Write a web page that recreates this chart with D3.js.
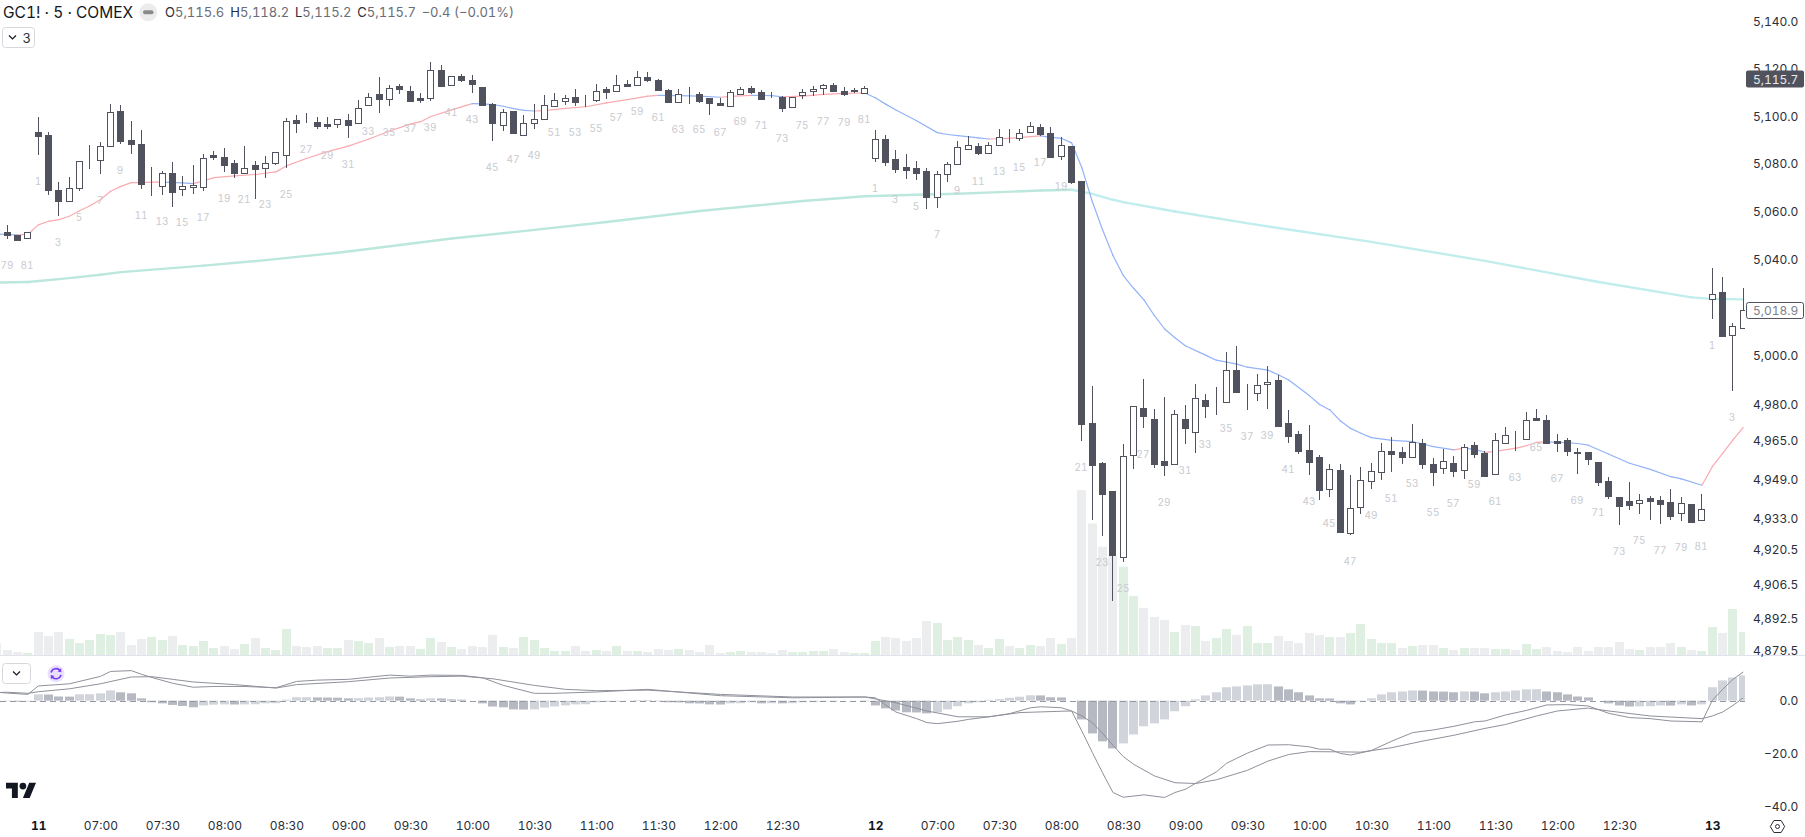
<!DOCTYPE html>
<html>
<head>
<meta charset="utf-8">
<title>GC1! 5 COMEX</title>
<script src="https://cdn.jsdelivr.net/npm/d3@7"></script>
<style>
  html, body { margin: 0; padding: 0; background: #fff; }
  svg { display: block; font-family: Inter, sans-serif; font-variant-numeric: tabular-nums; }
</style>
</head>
<body>
<svg id="chart" width="1805" height="837"></svg>
<script>
// bar 0 is the open of the session labelled 11, one bar every 5 minutes
var firstBar = -4;
var sessionOpens = [-81, 0, 81, 162];

var opens = [
  5050.5, 5051.3, 5050.2, 5048.8,
  5093.4, 5092.1, 5068.9, 5064.6, 5069.8, 5081.1, 5081.5, 5087.4, 5102.2, 5090.0,
  5088.3, 5072.3, 5070.6, 5076.2, 5069.4, 5070.2, 5070.2, 5083.7, 5082.9, 5080.2,
  5076.1, 5079.4, 5078.2, 5080.2, 5083.6, 5098.3, 5097.5, 5097.6, 5096.6, 5096.6,
  5098.3, 5097.0, 5104.6, 5109.2, 5107.1, 5112.9, 5110.8, 5107.5, 5107.9, 5119.6,
  5113.1, 5116.8, 5115.1, 5112.2, 5105.0, 5096.5, 5102.1, 5092.1, 5097.3, 5098.9,
  5104.3, 5106.4, 5108.2, 5106.5, 5106.8, 5111.3, 5110.8, 5113.8, 5113.3, 5116.4,
  5115.4, 5111.2, 5106.0, 5109.9, 5109.5, 5107.5, 5105.4, 5104.5, 5109.4, 5112.0,
  5110.3, 5108.9, 5108.2, 5104.0, 5108.9, 5110.6, 5111.9, 5113.3, 5110.8, 5110.8, 5109.8,
  5082.6, 5090.4, 5081.9, 5078.7, 5078.3, 5077.0, 5065.9, 5075.9, 5079.7, 5086.4,
  5087.4, 5084.7, 5087.8, 5091.5, 5091.0, 5093.2, 5095.3, 5093.0, 5083.2, 5087.5,
  5072.8, 4972.4, 4955.9, 4944.4, 4917.5, 4959.1, 4978.4, 4974.0, 4956.7, 4955.4,
  4973.9, 4968.8, 4981.6, 4979.9, 4980.8, 4994.0, 4984.9, 4984.5, 4988.2, 4990.0,
  4972.3, 4967.8, 4961.3, 4958.4, 4945.1, 4953.1, 4927.5, 4937.8, 4948.4, 4952.1,
  4960.9, 4960.5, 4958.3, 4964.0, 4955.5, 4953.7, 4955.8, 4952.9, 4963.3, 4960.0,
  4951.6, 4964.0, 4966.5, 4965.8, 4974.4, 4973.4, 4965.0, 4965.2, 4960.3, 4960.5,
  4956.4, 4948.6, 4942.1, 4940.5, 4939.4, 4941.7, 4940.9, 4940.1, 4935.3, 4939.2, 4932.5,
  5023.7, 5026.5, 5008.8, 5011.7
];
var highs = [
  5052.0, 5054.4, 5050.2, 5051.6,
  5099.7, 5093.4, 5072.4, 5074.5, 5081.1, 5087.9, 5089.2, 5105.1, 5104.6, 5098.0,
  5094.2, 5078.7, 5076.9, 5080.8, 5074.9, 5079.5, 5084.0, 5085.4, 5086.7, 5081.6,
  5087.5, 5081.2, 5083.3, 5084.9, 5099.2, 5100.4, 5101.3, 5099.5, 5099.5, 5098.7,
  5100.9, 5106.8, 5109.6, 5116.4, 5113.1, 5113.8, 5112.7, 5110.0, 5122.7, 5121.5,
  5117.1, 5117.9, 5117.2, 5112.2, 5105.6, 5103.2, 5102.1, 5100.4, 5105.0, 5108.8,
  5109.6, 5108.8, 5111.7, 5108.8, 5113.4, 5112.2, 5117.2, 5115.1, 5118.9, 5118.5,
  5115.9, 5111.6, 5111.3, 5112.3, 5110.3, 5107.5, 5107.8, 5111.2, 5112.2, 5112.6,
  5111.2, 5110.3, 5108.5, 5108.2, 5111.3, 5112.6, 5113.7, 5114.1, 5112.4, 5111.9, 5112.9,
  5094.2, 5092.1, 5085.8, 5084.2, 5081.2, 5078.3, 5077.0, 5080.8, 5089.6, 5091.7,
  5088.8, 5089.2, 5094.6, 5094.6, 5094.6, 5097.4, 5096.6, 5095.5, 5091.1, 5087.5,
  5072.8, 4987.6, 4956.3, 4944.4, 4963.6, 4979.2, 4990.5, 4978.1, 4983.1, 4977.7,
  4979.7, 4988.3, 4984.2, 4987.1, 5001.4, 5004.1, 4988.3, 4992.4, 4995.7, 4991.9,
  4977.7, 4969.0, 4971.5, 4959.2, 4955.5, 4955.5, 4951.0, 4954.2, 4955.8, 4964.0,
  4966.6, 4962.5, 4971.9, 4965.8, 4958.0, 4961.7, 4958.8, 4963.7, 4964.6, 4960.9,
  4968.2, 4970.7, 4969.1, 4976.7, 4978.1, 4975.6, 4967.8, 4966.2, 4962.1, 4960.5,
  4956.4, 4950.2, 4942.1, 4948.2, 4943.3, 4942.5, 4942.5, 4945.3, 4942.1, 4939.2, 4943.3,
  5036.4, 5032.7, 5013.6, 5028.1
];
var lows = [
  5049.0, 5048.4, 5048.3, 5048.4,
  5083.5, 5066.7, 5058.2, 5064.2, 5068.4, 5077.9, 5075.9, 5087.4, 5088.5, 5084.3,
  5069.5, 5066.3, 5066.7, 5061.7, 5066.3, 5067.5, 5068.4, 5081.4, 5076.6, 5074.1,
  5076.1, 5065.3, 5074.2, 5079.4, 5078.4, 5093.1, 5097.1, 5094.8, 5094.8, 5095.2,
  5091.0, 5097.0, 5104.6, 5101.5, 5104.4, 5109.4, 5106.2, 5105.7, 5106.5, 5112.4,
  5112.7, 5114.4, 5109.8, 5104.6, 5089.6, 5093.8, 5093.0, 5092.1, 5094.5, 5098.4,
  5104.3, 5104.7, 5104.2, 5103.9, 5106.0, 5107.3, 5110.8, 5112.3, 5113.3, 5114.3,
  5110.6, 5106.0, 5105.6, 5105.0, 5105.6, 5100.5, 5104.3, 5103.9, 5108.9, 5109.5,
  5107.3, 5107.7, 5101.8, 5104.0, 5107.1, 5108.5, 5108.9, 5110.2, 5108.5, 5109.9, 5109.8,
  5080.9, 5078.9, 5076.3, 5073.7, 5073.3, 5061.1, 5061.5, 5072.4, 5079.7, 5086.4,
  5083.7, 5084.7, 5087.8, 5088.6, 5089.7, 5093.2, 5091.6, 5082.5, 5081.4, 5071.6,
  4965.1, 4932.8, 4925.9, 4899.8, 4915.7, 4953.6, 4970.4, 4954.0, 4950.7, 4955.4,
  4963.6, 4960.0, 4974.4, 4975.7, 4980.8, 4984.9, 4977.7, 4981.4, 4978.1, 4970.7,
  4964.1, 4959.6, 4951.1, 4940.9, 4942.1, 4927.5, 4926.7, 4935.2, 4945.4, 4949.0,
  4952.4, 4955.3, 4958.3, 4953.6, 4946.5, 4951.6, 4950.3, 4949.3, 4958.1, 4950.7,
  4951.0, 4964.0, 4961.0, 4965.4, 4973.0, 4963.5, 4960.5, 4958.9, 4951.4, 4955.1,
  4946.6, 4941.3, 4930.7, 4936.8, 4935.2, 4932.8, 4931.1, 4932.8, 4932.3, 4931.5, 4932.5,
  5015.3, 5007.9, 4985.4, 5011.1
];
var closes = [
  5051.3, 5050.2, 5048.3, 5051.3,
  5091.8, 5068.8, 5064.6, 5069.8, 5081.1, 5081.0, 5087.4, 5101.6, 5089.7, 5088.1,
  5071.7, 5072.2, 5076.1, 5068.0, 5070.6, 5071.0, 5082.3, 5083.0, 5079.3, 5076.3,
  5078.4, 5078.0, 5080.2, 5084.9, 5097.8, 5097.3, 5097.4, 5096.0, 5095.9, 5098.7,
  5096.5, 5103.3, 5108.3, 5107.3, 5112.1, 5111.5, 5106.5, 5106.9, 5119.6, 5112.8,
  5116.8, 5115.5, 5113.4, 5104.6, 5097.2, 5101.9, 5093.0, 5097.3, 5099.0, 5104.9,
  5107.0, 5107.8, 5105.9, 5106.4, 5110.8, 5110.2, 5113.3, 5112.7, 5116.6, 5115.1,
  5111.0, 5106.0, 5109.5, 5110.0, 5106.4, 5105.6, 5104.7, 5110.2, 5111.6, 5110.2,
  5107.3, 5108.9, 5103.5, 5108.2, 5110.3, 5111.6, 5113.0, 5110.6, 5109.5, 5110.9, 5112.0,
  5090.3, 5080.9, 5077.6, 5077.5, 5076.2, 5066.1, 5075.6, 5080.0, 5087.0, 5087.8,
  5084.6, 5087.8, 5091.4, 5091.6, 5092.8, 5095.8, 5092.5, 5082.9, 5087.8, 5072.4,
  4972.1, 4955.2, 4943.3, 4918.5, 4958.6, 4979.2, 4975.4, 4955.6, 4955.2, 4975.9,
  4970.2, 4982.4, 4979.4, 4979.9, 4994.0, 4984.9, 4984.9, 4987.8, 4989.4, 4971.1,
  4967.0, 4960.8, 4956.5, 4945.0, 4953.3, 4927.8, 4937.4, 4948.8, 4952.5, 4960.7,
  4959.8, 4958.4, 4964.6, 4955.3, 4952.2, 4956.6, 4952.8, 4962.4, 4959.4, 4950.7,
  4965.2, 4967.3, 4966.6, 4973.4, 4973.6, 4964.1, 4964.1, 4961.0, 4960.2, 4957.6,
  4948.2, 4942.5, 4938.4, 4938.8, 4940.7, 4940.5, 4939.2, 4934.4, 4939.5, 4931.9, 4937.1,
  5025.6, 5008.2, 5012.4, 5018.9
];

// volume in arbitrary units, the picture has no volume axis
var volumes = [
  36, 16, 10, 7,
  70, 58, 70, 49, 37, 46, 64, 61, 70, 31, 49, 55, 46, 58, 31, 28, 43, 22, 28, 19,
  34, 52, 22, 16, 79, 28, 25, 28, 22, 22, 46, 43, 37, 52, 25, 28, 28, 19, 52, 40,
  25, 19, 28, 25, 61, 25, 22, 55, 46, 22, 13, 13, 28, 13, 16, 13, 28, 13, 13, 10,
  19, 16, 19, 16, 10, 31, 7, 10, 13, 10, 10, 7, 16, 10, 10, 13, 13, 19, 10, 7, 7,
  43, 55, 52, 43, 52, 103, 97, 46, 55, 46, 31, 22, 49, 28, 22, 31, 28, 52, 34, 52,
  496, 396, 326, 298, 266, 178, 142, 115, 106, 70, 91, 88, 43, 52, 79, 61, 88, 37, 37, 58,
  43, 37, 67, 61, 55, 55, 67, 94, 49, 37, 37, 22, 28, 31, 31, 22, 16, 22, 22, 22,
  19, 19, 16, 34, 19, 25, 13, 10, 25, 13, 25, 25, 40, 19, 16, 25, 25, 37, 25, 16, 13,
  85, 67, 139, 70
];
var volumeUp = [
  0, 0, 0, 1,
  0, 0, 0, 1, 1, 1, 1, 1, 0, 0, 0, 1, 1, 0, 1, 1, 1, 1, 0, 0,
  1, 0, 1, 1, 1, 0, 0, 0, 1, 1, 0, 1, 1, 0, 1, 0, 0, 1, 1, 0,
  1, 0, 0, 0, 0, 1, 0, 1, 1, 1, 1, 1, 0, 0, 1, 0, 1, 0, 1, 0,
  0, 0, 1, 0, 0, 0, 0, 1, 1, 0, 0, 0, 0, 1, 1, 1, 1, 0, 0, 1, 1,
  1, 0, 0, 0, 0, 0, 1, 1, 1, 1, 0, 1, 1, 0, 1, 1, 0, 0, 1, 0,
  0, 0, 0, 0, 1, 1, 0, 0, 0, 1, 0, 1, 0, 1, 1, 0, 1, 1, 1, 0,
  0, 0, 0, 0, 1, 0, 1, 1, 1, 1, 1, 0, 1, 0, 0, 1, 0, 1, 0, 0,
  1, 1, 0, 1, 1, 0, 0, 0, 0, 0, 0, 0, 0, 0, 1, 0, 0, 0, 1, 0, 1,
  1, 0, 1, 1
];

var macdHist = [
  -0.2, -0.2, -0.4, -0.3,
  2.4, 2.35, 1.6, 1.55, 2.4, 2.45, 2.8, 3.9, 3.2, 2.8,
  0.9, -0.6, -1.0, -1.6, -2.0, -2.5, -1.8, -1.5, -1.4, -1.45,
  -1.4, -1.35, -1.0, -0.95, 0.4, 1.3, 1.3, 1.25, 1.2, 1.15,
  0.9, 0.95, 1.2, 1.3, 1.6, 1.55, 0.9, 0.5, 0.9, 0.85,
  0.5, 0.4, 0, -1.0, -2.2, -2.5, -3.3, -3.35, -3.3, -2.6,
  -2.2, -1.8, -1.4, -1.35, -0.6, -0.5, -0.3, -0.1, 0.3, 0.2,
  -0.2, -0.6, -0.65, -1.0, -1.05, -1.4, -1.45, -1.0, -0.95, -0.6,
  -1.0, -0.95, -1.0, -0.95, -0.6, -0.55, -0.3, -0.25, 0, 0.05, -0.2,
  -1.8, -2.9, -3.7, -4.4, -4.45, -4.8, -4.4, -3.3, -2.1, -1.0,
  -0.6, 0.3, 0.6, 1.1, 1.5, 2.05, 2.0, 1.3, 1.25, 0,
  -7.1, -12.4, -15.4, -18.1, -16.2, -12.8, -9.7, -8.6, -7.1, -4.0,
  -2.1, 0.5, 2.0, 3.2, 5.1, 5.4, 5.8, 6.2, 6.25, 5.4,
  4.3, 3.2, 2.0, 0.9, 0.85, -1.0, -1.4, -0.2, 0.9, 2.4,
  3.2, 3.5, 3.9, 3.85, 3.5, 3.45, 3.2, 3.5, 3.45, 2.8,
  3.2, 3.5, 3.9, 4.3, 4.35, 3.5, 3.2, 2.4, 1.6, 1.25,
  0, -1.0, -1.8, -2.2, -2.15, -2.1, -1.8, -1.85, -1.4, -1.8, -1.4,
  5.1, 7.7, 8.8, 9.6
];

var fastMa = [
  [-4, 5050.6], [-3, 5050.4], [-2, 5050.2], [-1, 5050.5], [0, 5054.4], [1, 5055.9], [2, 5056.6], [3, 5058.0],
  [4, 5060.3], [5, 5062.4], [6, 5064.9], [7, 5068.5], [8, 5070.5], [9, 5072.1], [10, 5072.1], [11, 5072.3],
  [12, 5072.3], [14, 5072.0], [15, 5071.7], [16, 5072.8], [17, 5074.2], [19, 5074.9], [21, 5075.5], [23, 5076.6],
  [24, 5079.1], [26, 5082.3], [28, 5085.1], [30, 5087.4], [32, 5090.4], [34, 5093.8], [36, 5096.7], [37, 5097.7],
  [38, 5099.9], [40, 5102.7], [42, 5105.3], [43, 5105.2], [44, 5104.9], [45, 5104.2], [46, 5103.2], [47, 5102.5],
  [48, 5102.2], [49, 5102.4], [51, 5103.3], [53, 5104.0], [55, 5105.6], [57, 5107.0], [59, 5108.5], [60, 5108.8],
  [62, 5108.7], [64, 5108.5], [66, 5108.0], [67, 5108.4], [69, 5108.8], [71, 5108.7], [72, 5108.2], [74, 5108.5],
  [76, 5109.2], [78, 5109.6], [80, 5109.8], [81, 5107.8], [82, 5105.1], [83, 5102.6], [85, 5098.1], [87, 5093.1],
  [88, 5092.3], [89, 5091.8], [91, 5090.9], [92, 5090.4], [94, 5090.7], [96, 5091.4], [97, 5091.7], [98, 5091.1],
  [99, 5090.7], [100, 5088.8], [101, 5078.2], [102, 5064.2], [103, 5052.3], [104, 5041.6], [105, 5033.3], [106, 5028.0],
  [107, 5023.2], [108, 5016.7], [109, 5011.1], [110, 5007.5], [111, 5004.2], [113, 5000.2], [114, 4998.2], [116, 4996.6],
  [117, 4995.3], [119, 4994.1], [120, 4992.2], [121, 4990.0], [123, 4983.6], [124, 4979.9], [125, 4977.7], [126, 4973.2],
  [127, 4970.1], [128, 4968.1], [129, 4966.3], [131, 4965.2], [133, 4964.7], [134, 4963.7], [135, 4962.6], [137, 4961.3],
  [138, 4962.0], [139, 4961.5], [140, 4960.3], [141, 4960.7], [143, 4962.0], [144, 4963.0], [145, 4964.4], [146, 4964.6],
  [147, 4964.4], [148, 4964.3], [149, 4963.9], [150, 4963.2], [152, 4959.5], [154, 4955.8], [156, 4953.3], [158, 4950.3],
  [159, 4949.4], [161, 4946.8], [162, 4954.4], [163, 4959.9], [164, 4965.4], [165, 4970.5]
];
var slowMa = [
  [-4, 5030.4], [-1, 5030.6], [3, 5032.2], [6, 5033.6], [8, 5034.7], [16, 5037.4], [22, 5039.7], [29, 5042.8],
  [35, 5046.0], [40, 5048.7], [46, 5051.4], [55, 5055.6], [64, 5060.2], [74, 5064.4], [80, 5066.4], [85, 5067.0],
  [89, 5067.4], [93, 5068.1], [97, 5068.8], [100, 5069.1], [102, 5067.4], [104, 5064.9], [105, 5063.9], [110, 5060.0],
  [118, 5054.4], [129, 5047.3], [140, 5039.4], [151, 5030.6], [160, 5024.2], [162, 5023.6], [165, 5023.4]
];
var macdLine = [
  [-4, 3.2], [-3, 2.9], [-1, 2.4], [0, 5.6], [3, 6.4], [6, 9.2], [7, 11.1], [9, 11.4], [10, 10.0], [11, 8.8],
  [13, 6.6], [15, 5.1], [17, 5.4], [20, 5.4], [23, 4.9], [25, 7.3], [27, 7.8], [30, 8.1], [34, 9.7], [36, 9.3],
  [38, 9.7], [41, 9.6], [43, 8.7], [45, 5.8], [48, 2.8], [50, 2.8], [54, 3.3], [59, 4.3], [66, 1.9], [73, 1.1],
  [80, 1.4], [81, 1.1], [83, -4.3], [85, -6.8], [86, -8.3], [87, -8.7], [89, -7.8], [90, -7.1], [92, -6.1], [94, -4.9],
  [96, -2.7], [97, -2.3], [99, -2.65], [100, -3.9], [101, -11.6], [102, -19.6], [103, -27.4], [104, -34.8], [105, -36.6],
  [107, -35.7], [109, -36.7], [110, -34.8], [111, -33.6], [112, -31.3], [114, -27], [115, -23.7], [116, -21.8], [117, -19.9],
  [119, -16.8], [121, -16.7], [123, -17.5], [124, -18.4], [125, -18.4], [126, -20], [127, -20.6], [129, -18.9], [131, -15.3],
  [133, -12.1], [135, -11.1], [137, -9.7], [139, -8], [140, -7.7], [142, -5.4], [144, -3.7], [146, -1.6], [148, -1.5],
  [150, -2], [152, -4.8], [154, -6.4], [156, -6.8], [158, -7.7], [161, -8], [162, 0.1], [163, 4.3], [164, 8.1], [165, 10.9]
];
var signalLine = [
  [-4, 3.1], [-3, 3.2], [-1, 2.8], [0, 3.4], [3, 4.5], [6, 6.4], [9, 9.0], [11, 9.1], [15, 7.1], [19, 6.1],
  [23, 4.8], [25, 6.1], [30, 7.2], [34, 8.6], [38, 9.1], [41, 9.3], [44, 8.3], [48, 5.8], [51, 4.3], [54, 3.8],
  [59, 4.0], [66, 2.4], [73, 1.4], [80, 1.4], [83, -0.8], [86, -3.9], [89, -6.1], [92, -6.1], [95, -4.5], [99, -4.0],
  [100, -3.9], [101, -5.8], [102, -8.3], [103, -12.4], [104, -16.9], [105, -21.2], [106, -24.1], [108, -28.5], [110, -31.1],
  [112, -31.4], [114, -30], [117, -26.4], [119, -22.9], [121, -20.4], [123, -19.3], [126, -19.4], [128, -19.5], [131, -17.8],
  [134, -15.3], [137, -13.1], [140, -10.5], [142, -9], [145, -5.8], [147, -3.9], [150, -2.8], [152, -3.9], [156, -5.8],
  [161, -6.8], [162, -5.8], [163, -4.3], [164, -1.8], [165, 1.1]
];

var priceTicks = [5140, 5120, 5100, 5080, 5060, 5040, 5000, 4980, 4965, 4949, 4933, 4920.5, 4906.5, 4892.5, 4879.5];
var macdTicks = [0, -20, -40];
var timeBars = [0, 6, 12, 18, 24, 30, 36, 42, 48, 54, 60, 66, 72, 81, 87, 93, 99, 105, 111, 117, 123, 129, 135, 141, 147, 153, 162];
var timeLabels = ['11', '07:00', '07:30', '08:00', '08:30', '09:00', '09:30', '10:00', '10:30', '11:00', '11:30', '12:00', '12:30',
  '12', '07:00', '07:30', '08:00', '08:30', '09:00', '09:30', '10:00', '10:30', '11:00', '11:30', '12:00', '12:30', '13'];
var dayLabels = ['11', '12', '13'];
var lastPrice = 5115.7;
var livePrice = 5018.9;

var plotRight = 1745,
  darkBar = '#50535e',
  axisText = '#2a2e39';

var svg = d3.select('#chart');

var xScale = d3.scaleLinear().domain([0, 162]).range([38.3, 1712.3]),
  yPrice = d3.scaleLog().domain([5140, 4879.5]).range([21.7, 651]),
  yVolume = d3.scaleLinear().domain([0, 100]).range([655.3, 622]),
  yMacd = d3.scaleLinear().domain([0, -40]).range([700.7, 806.2]);

var bars = d3.range(opens.length).map(function (n) {
  return {
    bar: n + firstBar,
    open: opens[n],
    high: highs[n],
    low: lows[n],
    close: closes[n],
    volume: volumes[n],
    up: volumeUp[n],
    hist: macdHist[n],
    prevHist: n > 0 ? macdHist[n - 1] : macdHist[n]
  };
});

// pixel centre of a bar, so wicks stay one pixel wide
var barX = (d) => Math.floor(xScale(d)) + 0.5;
var snap = (v) => Math.round(v) + 0.5;

svg.append('defs').append('clipPath').attr('id', 'plot')
  .append('rect').attr('width', plotRight).attr('height', 837);

var plot = svg.append('g').attr('clip-path', 'url(#plot)');

// separator between price pane and macd pane
svg.append('line')
  .attr('x1', 0).attr('x2', 1805)
  .attr('y1', 655.5).attr('y2', 655.5)
  .attr('stroke', '#e0e3eb');

// volume
plot.append('g').selectAll('rect')
  .data(bars)
  .join('rect')
  .attr('x', (d) => barX(d.bar) - 4.5)
  .attr('y', (d) => yVolume(d.volume))
  .attr('width', 9)
  .attr('height', (d) => yVolume(0) - yVolume(d.volume))
  .attr('fill', (d) => (d.up ? '#dff0e3' : '#ecedef'));

var priceLine = d3.line().x((d) => xScale(d[0])).y((d) => yPrice(d[1]));
var macdPath = d3.line().x((d) => xScale(d[0])).y((d) => yMacd(d[1]));

// moving averages change colour with their direction
function drawSegments(points, width, upColor, downColor) {
  plot.append('g').selectAll('path')
    .data(d3.pairs(points))
    .join('path')
    .attr('d', (d) => priceLine(d))
    .attr('fill', 'none')
    .attr('stroke-width', width)
    .attr('stroke-linecap', 'round')
    .attr('stroke', (d) => (d[1][1] >= d[0][1] ? upColor : downColor));
}
drawSegments(slowMa, 2.4, '#bce7dc', '#c1eded');
drawSegments(fastMa, 1.2, '#f9aab1', '#93b2f7');

// bar numbers sit a fixed distance under the low, odd bars only
var barNumber = (d) => d.bar - sessionOpens[d3.bisectRight(sessionOpens, d.bar) - 1] + 1;

plot.append('g').selectAll('text')
  .data(bars.filter((d) => barNumber(d) % 2 === 1))
  .join('text')
  .attr('x', (d) => barX(d.bar) - 0.5)
  .attr('y', (d) => yPrice(d.low) + 30)
  .attr('text-anchor', 'middle')
  .attr('font-size', 10)
  .attr('fill', '#c9cacf')
  .text(barNumber);

// candles
var candles = plot.append('g').selectAll('g')
  .data(bars)
  .join('g');

candles.append('line')
  .attr('x1', (d) => barX(d.bar))
  .attr('x2', (d) => barX(d.bar))
  .attr('y1', (d) => Math.round(yPrice(d.high)))
  .attr('y2', (d) => Math.round(yPrice(d.low)))
  .attr('stroke', darkBar);

candles.append('rect')
  .attr('x', (d) => barX(d.bar) - 3)
  .attr('y', (d) => snap(yPrice(Math.max(d.open, d.close))))
  .attr('width', 6)
  .attr('height', (d) => Math.round(yPrice(Math.min(d.open, d.close))) - Math.round(yPrice(Math.max(d.open, d.close))))
  .attr('fill', (d) => (d.close >= d.open ? '#fff' : darkBar))
  .attr('stroke', darkBar);

// macd histogram: darker while it is falling
plot.append('g').selectAll('rect')
  .data(bars)
  .join('rect')
  .attr('x', (d) => barX(d.bar) - 4.5)
  .attr('y', (d) => yMacd(Math.max(0, d.hist)))
  .attr('width', 9)
  .attr('height', (d) => Math.abs(yMacd(d.hist) - yMacd(0)))
  .attr('fill', (d) => (d.hist < d.prevHist ? '#b6b9c2' : '#d1d4da'));

plot.append('line')
  .attr('x1', 0).attr('x2', plotRight)
  .attr('y1', snap(yMacd(0))).attr('y2', snap(yMacd(0)))
  .attr('stroke', '#9598a1')
  .attr('stroke-dasharray', '6 4');

[macdLine, signalLine].forEach(function (points) {
  plot.append('path')
    .attr('d', macdPath(points))
    .attr('fill', 'none')
    .attr('stroke', '#8f919b')
    .attr('stroke-width', 1);
});

// axes, text right aligned in the scale column
var priceAxis = d3.axisRight(yPrice).tickValues(priceTicks).tickSize(0).tickFormat(d3.format(',.1f'));
var macdAxis = d3.axisRight(yMacd).tickValues(macdTicks).tickSize(0).tickFormat(d3.format('.1f'));
var timeAxis = d3.axisBottom(xScale).tickValues(timeBars).tickSize(0).tickPadding(0)
  .tickFormat((d, i) => timeLabels[i]);

function styleAxis(g) {
  g.select('.domain').remove();
  g.attr('font-family', 'Inter, sans-serif').attr('font-size', 12);
  g.selectAll('text').attr('fill', axisText);
}

[priceAxis, macdAxis].forEach(function (axis) {
  svg.append('g')
    .attr('transform', 'translate(' + plotRight + ',0)')
    .call(axis)
    .call(styleAxis)
    .selectAll('text')
    .attr('x', 53.3)
    .attr('text-anchor', 'end');
});

svg.append('g')
  .attr('transform', 'translate(0,821.5)')
  .call(timeAxis)
  .call(styleAxis)
  .selectAll('text')
  .attr('font-weight', (d, i) => (dayLabels.indexOf(timeLabels[i]) >= 0 ? 700 : 400))
  .attr('fill', (d, i) => (dayLabels.indexOf(timeLabels[i]) >= 0 ? '#131722' : axisText));

// price tags
var format1 = d3.format(',.1f');
svg.append('rect')
  .attr('x', 1746).attr('y', yPrice(lastPrice) - 8.5)
  .attr('width', 58).attr('height', 17).attr('rx', 2)
  .attr('fill', darkBar);
svg.append('text')
  .attr('x', 1798.3).attr('y', yPrice(lastPrice) + 4.5)
  .attr('text-anchor', 'end').attr('font-size', 12)
  .attr('fill', '#e8e9ec')
  .text(format1(lastPrice));
svg.append('rect')
  .attr('x', 1746.5).attr('y', snap(yPrice(livePrice)) - 8)
  .attr('width', 57).attr('height', 16).attr('rx', 2)
  .attr('fill', '#fff').attr('stroke', darkBar);
svg.append('text')
  .attr('x', 1798.3).attr('y', yPrice(livePrice) + 4.5)
  .attr('text-anchor', 'end').attr('font-size', 12)
  .attr('fill', '#7d808a')
  .text(format1(livePrice));

// legend row
var legend = svg.append('g');
legend.append('text')
  .attr('x', 3).attr('y', 17.5)
  .attr('font-size', 15.5).attr('fill', '#131722')
  .text('GC1! · 5 · COMEX');
legend.append('circle').attr('cx', 148.3).attr('cy', 12.3).attr('r', 9).attr('fill', '#ececec');
legend.append('rect').attr('x', 143).attr('y', 10.3).attr('width', 10.5).attr('height', 4).attr('rx', 2).attr('fill', '#8a8a8a');

var ohlcLetters = ['O', 'H', 'L', 'C'];
var ohlcValues = ['5,115.6', '5,118.2', '5,115.2', '5,115.7'];
var ohlcX = [165, 230.3, 295, 357.3];
ohlcLetters.forEach(function (letter, i) {
  var t = legend.append('text').attr('x', ohlcX[i]).attr('y', 17).attr('font-size', 13);
  t.append('tspan').attr('fill', '#2a2e39').text(letter);
  t.append('tspan').attr('fill', '#6a6d78').text(ohlcValues[i]);
});
legend.append('text')
  .attr('x', 421.7).attr('y', 17).attr('font-size', 13).attr('fill', '#6a6d78')
  .text('−0.4 (−0.01%)');

// collapse buttons
function button(x, y, w, h) {
  svg.append('rect')
    .attr('x', x).attr('y', y).attr('width', w).attr('height', h).attr('rx', 3)
    .attr('fill', '#fff').attr('stroke', '#d6d8de');
}
function chevron(cx, cy) {
  svg.append('path')
    .attr('d', 'M' + (cx - 3.5) + ',' + (cy - 2) + 'l3.5,3.5l3.5,-3.5')
    .attr('fill', 'none').attr('stroke', '#131722').attr('stroke-width', 1.2);
}
button(2.5, 27.5, 32, 20);
chevron(12.5, 37.5);
svg.append('text').attr('x', 22.5).attr('y', 43).attr('font-size', 13).attr('fill', '#2a2e39').text('3');

button(2.5, 663.5, 28, 20);
chevron(16.5, 673.5);

// refresh badge on the macd pane
var badge = svg.append('g').attr('transform', 'translate(56,673.7)');
badge.append('circle').attr('r', 8.5).attr('fill', '#e9e0fd');
badge.append('path')
  .attr('d', 'M-5,-1.2A5.2,5.2 0 0 1 4.2,-3 M5,1.2A5.2,5.2 0 0 1 -4.2,3')
  .attr('fill', 'none').attr('stroke', '#7a3df0').attr('stroke-width', 1.6);
badge.append('path').attr('d', 'M5,-5.4L5.4,-1.4L1.6,-2.2Z').attr('fill', '#7a3df0');
badge.append('path').attr('d', 'M-5,5.4L-5.4,1.4L-1.6,2.2Z').attr('fill', '#7a3df0');

// TradingView mark
var logo = svg.append('g').attr('transform', 'translate(6,779.3) scale(0.845)').attr('fill', '#131722');
logo.append('path').attr('d', 'M14 22H7V11H0V4h14v18zM28 22h-8l7.5-18h8L28 22z');
logo.append('circle').attr('cx', 20).attr('cy', 8).attr('r', 4);

// settings hexagon in the corner
var gear = svg.append('g').attr('transform', 'translate(1777.5,826.5)')
  .attr('fill', 'none').attr('stroke', '#2a2e39').attr('stroke-width', 1);
gear.append('path').attr('d', 'M-7.2,0L-3.6,-6H3.6L7.2,0L3.6,6H-3.6Z');
gear.append('circle').attr('r', 2);
</script>
</body>
</html>
